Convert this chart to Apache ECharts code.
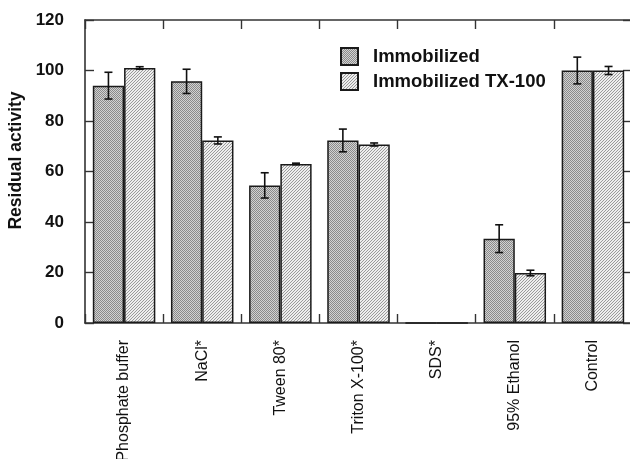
<!DOCTYPE html>
<html>
<head>
<meta charset="utf-8">
<script src="https://cdn.jsdelivr.net/npm/echarts@6/dist/echarts.min.js"></script>
<style>
  html, body { margin: 0; padding: 0; background: #fff; }
  #chart { width: 630px; height: 459px; }
</style>
</head>
<body>
<div id="chart"></div>
<script>
  const categories = ['Phosphate buffer', 'NaCl*', 'Tween 80*', 'Triton X-100*', 'SDS*', '95% Ethanol', 'Control'];
  const immobilized = [94, 95.7, 54.5, 72.3, 0, 33.4, 100];
  const immobilizedErr = [5.3, 4.8, 5, 4.5, 0, 5.5, 5.3];
  const tx100 = [101, 72.3, 63, 70.7, 0, 19.8, 100];
  const tx100Err = [0.5, 1.4, 0.3, 0.6, 0, 1.1, 1.6];
  const yTicks = [0, 20, 40, 60, 80, 100, 120];

  // small canvas tiles used as bar fills
  function makeTile(size, draw) {
    const c = document.createElement('canvas');
    c.width = size;
    c.height = size;
    draw(c.getContext('2d'));
    return c;
  }

  const stipple = makeTile(4, ctx => {
    ctx.fillStyle = '#d2d2d2';
    ctx.fillRect(0, 0, 4, 4);
    ctx.fillStyle = '#8a8a8a';
    for (let y = 0; y < 4; y++) {
      for (let x = 0; x < 4; x++) {
        if ((x + y) % 2 === 0) ctx.fillRect(x, y, 1, 1);
      }
    }
  });

  const hatch = makeTile(3, ctx => {
    ctx.fillStyle = '#eeeeee';
    ctx.fillRect(0, 0, 3, 3);
    ctx.fillStyle = '#9a9a9a';
    ctx.fillRect(0, 2, 1, 1);
    ctx.fillRect(1, 1, 1, 1);
    ctx.fillRect(2, 0, 1, 1);
  });

  function errorSeries(name, values, errs, offset) {
    return {
      type: 'custom',
      name: name + ' err',
      xAxisIndex: 1,
      yAxisIndex: 1,
      data: values.map((v, i) => [i, v, errs[i]]),
      z: 5,
      silent: true,
      renderItem: (params, api) => {
        const err = api.value(2);
        if (!err) return null;
        const idx = api.value(0);
        const val = api.value(1);
        const w = api.size([1, 0])[0];
        const top = api.coord([idx, val + err]);
        const bottom = api.coord([idx, val - err]);
        const x = top[0] + offset * w;
        const cap = 4;
        const style = { stroke: '#111', lineWidth: 1.6 };
        return {
          type: 'group',
          children: [
            { type: 'line', shape: { x1: x, y1: top[1], x2: x, y2: bottom[1] }, style },
            { type: 'line', shape: { x1: x - cap, y1: top[1], x2: x + cap, y2: top[1] }, style },
            { type: 'line', shape: { x1: x - cap, y1: bottom[1], x2: x + cap, y2: bottom[1] }, style }
          ]
        };
      }
    };
  }

  const chart = echarts.init(document.getElementById('chart'));

  const frameLine = { show: true, onZero: false, lineStyle: { color: '#333', width: 1.6 } };
  const innerTick = { show: true, inside: true, length: 9, lineStyle: { color: '#333', width: 1.4 } };

  const option = {
    animation: false,
    textStyle: { fontFamily: 'Liberation Sans, Arial, sans-serif' },
    grid: { left: 85, right: -2, top: 20, bottom: 136, outerBoundsMode: 'none', containLabel: false },
    legend: {
      orient: 'vertical',
      left: 335,
      top: 42,
      icon: 'rect',
      itemWidth: 17,
      itemHeight: 17,
      itemGap: 6,
      data: ['Immobilized', 'Immobilized TX-100'],
      textStyle: { fontSize: 18.5, fontWeight: 'bold', color: '#111', padding: [0, 0, 0, 10] }
    },
    xAxis: [
      {
        type: 'category',
        data: categories,
        position: 'bottom',
        axisLine: frameLine,
        axisTick: Object.assign({ interval: 0 }, innerTick),
        axisLabel: {
          interval: 0,
          rotate: 90,
          margin: 17,
          fontSize: 16,
          color: '#111'
        }
      },
      {
        type: 'category',
        data: categories,
        position: 'top',
        axisLine: frameLine,
        axisTick: Object.assign({ interval: 0 }, innerTick),
        axisLabel: { show: false }
      }
    ],
    yAxis: [
      {
        type: 'value',
        min: yTicks[0],
        max: yTicks[yTicks.length - 1],
        interval: 20,
        position: 'left',
        name: 'Residual activity',
        nameLocation: 'middle',
        nameGap: 51,
        nameTextStyle: { fontSize: 17.5, fontWeight: 'bold', color: '#111', padding: [0, 0, 0, 22] },
        axisLine: frameLine,
        axisTick: innerTick,
        splitLine: { show: false },
        axisLabel: { fontSize: 17, fontWeight: 'bold', color: '#111', margin: 21 }
      },
      {
        type: 'value',
        min: yTicks[0],
        max: yTicks[yTicks.length - 1],
        interval: 20,
        position: 'right',
        axisLine: frameLine,
        axisTick: innerTick,
        splitLine: { show: false },
        axisLabel: { show: false }
      }
    ],
    series: [
      {
        name: 'Immobilized',
        type: 'bar',
        data: immobilized,
        barWidth: '40%',
        barGap: '0%',
        itemStyle: {
          color: { image: stipple, repeat: 'repeat' },
          borderColor: '#1a1a1a',
          borderWidth: 1.5
        }
      },
      {
        name: 'Immobilized TX-100',
        type: 'bar',
        data: tx100,
        barWidth: '40%',
        barGap: '0%',
        itemStyle: {
          color: { image: hatch, repeat: 'repeat' },
          borderColor: '#1a1a1a',
          borderWidth: 1.5
        }
      },
      errorSeries('Immobilized', immobilized, immobilizedErr, -0.2),
      errorSeries('Immobilized TX-100', tx100, tx100Err, 0.2)
    ]
  };

  chart.setOption(option);
</script>
</body>
</html>
